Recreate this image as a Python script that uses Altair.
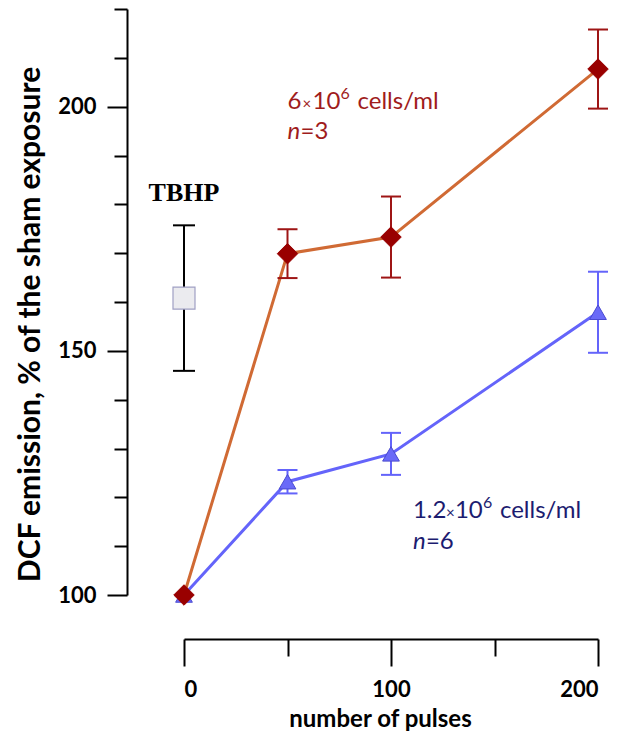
import altair as alt
import pandas as pd

# ---------------- data ----------------
pulses = [0, 50, 100, 200]
high_mean = [100, 169.9, 173.3, 207.7]   # 6x10^6 cells/ml, n=3
high_err = [0, 5.0, 8.3, 8.1]
low_mean = [100, 123.2, 128.9, 157.9]    # 1.2x10^6 cells/ml, n=6
low_err = [0, 2.4, 4.3, 8.3]
tbhp_pulses = [0]
tbhp_mean = [160.8]
tbhp_err = [14.9]

x_tick_values = [0, 50, 100, 150, 200]
y_tick_values = list(range(100, 221, 10))

HIGH = "6×10⁶ cells/ml"
LOW = "1.2×10⁶ cells/ml"

high = pd.DataFrame({"series": HIGH, "pulses": pulses, "mean": high_mean, "err": high_err})
low = pd.DataFrame({"series": LOW, "pulses": pulses, "mean": low_mean, "err": low_err})
both = pd.concat([high, low], ignore_index=True)
tbhp = pd.DataFrame({"pulses": tbhp_pulses, "mean": tbhp_mean, "err": tbhp_err})

ORANGE = "#d06a34"
DARKRED = "#990000"
ERRRED = "#9e1515"
TXTRED = "#a01c1c"
BLUE = "#6464fa"
NAVY = "#1c1c70"
FONT = "Lato"

x_scale = alt.Scale(domain=[0, 200], nice=False, zero=False)
y_scale = alt.Scale(domain=[100, 220], nice=False, zero=False)

x_axis = alt.Axis(
    values=x_tick_values,
    labelExpr="datum.value % 100 === 0 ? datum.label : ''",
    offset=44,
    tickSize={"condition": {"test": "datum.value % 100 === 0", "value": 27}, "value": 17},
    tickWidth=2, tickColor="black", domainWidth=2, domainColor="black",
    labelFont=FONT, labelFontSize=22, labelFontWeight="bold", labelColor="black",
    labelPadding=13, grid=False,
    title="number of pulses", titleFont=FONT, titleFontSize=24, titleFontWeight="bold",
    titleColor="black", titlePadding=7, titleX=196,
)
y_axis = alt.Axis(
    values=y_tick_values,
    labelExpr="datum.value % 50 === 0 ? datum.label : ''",
    offset=57,
    tickSize={"condition": {"test": "datum.value % 50 === 0", "value": 20}, "value": 13},
    tickWidth=2, tickColor="black", domainWidth=2, domainColor="black",
    labelFont=FONT, labelFontSize=22, labelFontWeight="bold", labelColor="black",
    labelPadding=11, grid=False,
    title="DCF emission, % of the sham exposure", titleFont=FONT, titleFontSize=30,
    titleFontWeight="bold", titleColor="black", titlePadding=12, titleY=315,
)

X = alt.X("pulses:Q", scale=x_scale, axis=x_axis)
Y = alt.Y("mean:Q", scale=y_scale, axis=y_axis)

base = alt.Chart(both)

lines = base.mark_line(strokeWidth=3).encode(
    x=X, y=Y,
    color=alt.Color("series:N", scale=alt.Scale(domain=[HIGH, LOW], range=[ORANGE, BLUE]), legend=None),
    order=alt.Order("pulses:Q"),
)

err_base = base.transform_filter("datum.err > 0").transform_calculate(
    lo="datum.mean - datum.err", hi="datum.mean + datum.err"
)
err_color = alt.condition(f"datum.series === '{HIGH}'", alt.value(ERRRED), alt.value(BLUE))

err_rule = err_base.mark_rule(strokeWidth=2).encode(
    x="pulses:Q", y="lo:Q", y2="hi:Q", color=err_color
)
err_lo = err_base.mark_tick(orient="horizontal", size=20, thickness=2, opacity=1).encode(
    x="pulses:Q", y="lo:Q", color=err_color
)
err_hi = err_base.mark_tick(orient="horizontal", size=20, thickness=2, opacity=1).encode(
    x="pulses:Q", y="hi:Q", color=err_color
)

tri = alt.Chart(low).mark_point(
    shape="triangle-up", filled=True, fill="#6a6af8", stroke="#4a4ad0", strokeWidth=1,
    size=280, opacity=1
).encode(x="pulses:Q", y="mean:Q")

dia = alt.Chart(high).mark_point(
    shape="diamond", filled=True, fill=DARKRED, stroke=DARKRED, strokeWidth=1,
    size=420, opacity=1
).encode(x="pulses:Q", y="mean:Q")

tb = alt.Chart(tbhp).transform_calculate(lo="datum.mean - datum.err", hi="datum.mean + datum.err")
tb_rule = tb.mark_rule(strokeWidth=2, color="black").encode(x="pulses:Q", y="lo:Q", y2="hi:Q")
tb_lo = tb.mark_tick(orient="horizontal", size=22, thickness=2, color="black", opacity=1).encode(
    x="pulses:Q", y="lo:Q")
tb_hi = tb.mark_tick(orient="horizontal", size=22, thickness=2, color="black", opacity=1).encode(
    x="pulses:Q", y="hi:Q")
tb_sq = tb.mark_square(size=484, fill="#ebebef", stroke="#a0a0c4", strokeWidth=1.2, opacity=1).encode(
    x="pulses:Q", y="mean:Q")
tb_text = tb.mark_text(
    text="TBHP", font="Liberation Serif", fontSize=26, fontWeight="bold", color="black",
    baseline="alphabetic", align="center", dy=-24
).encode(x="pulses:Q", y="hi:Q")


def txt(t, x, y, color, size=24, style="normal", dx=0, dy=0):
    return alt.Chart(pd.DataFrame({"a": [0]})).mark_text(
        text=t, font=FONT, fontSize=size, color=color, fontStyle=style,
        align="left", baseline="alphabetic", dx=dx, dy=dy
    ).encode(x=alt.datum(x, scale=x_scale), y=alt.datum(y, scale=y_scale))


ann = [
    # 6 x 10^6 cells/ml ; n=3
    txt("6", 50, 199.5, TXTRED),
    txt("×", 50, 199.5, TXTRED, size=15, dx=15),
    txt("10", 50, 199.5, TXTRED, dx=25),
    txt("6", 50, 199.5, TXTRED, size=16, dx=53, dy=-10),
    txt("cells/ml", 50, 199.5, TXTRED, dx=70),
    txt("n", 50, 193.4, TXTRED, style="italic"),
    txt("=3", 50, 193.4, TXTRED, dx=13),
    # 1.2 x 10^6 cells/ml ; n=6
    txt("1.2", 110.6, 115.8, NAVY),
    txt("×", 110.6, 115.8, NAVY, size=15, dx=33),
    txt("10", 110.6, 115.8, NAVY, dx=42),
    txt("6", 110.6, 115.8, NAVY, size=16, dx=70, dy=-10),
    txt("cells/ml", 110.6, 115.8, NAVY, dx=87),
    txt("n", 110.6, 109.4, NAVY, style="italic"),
    txt("=6", 110.6, 109.4, NAVY, dx=13),
]

chart = alt.layer(
    lines, err_rule, err_lo, err_hi, tb_rule, tb_lo, tb_hi, tb_sq, tb_text, tri, dia, *ann
).properties(
    width=414, height=586,
    padding={"top": 0, "left": 7, "right": 0, "bottom": 0},
).configure_view(stroke=None)

chart.save("out.html", embed_options={"renderer": "svg", "actions": False})
